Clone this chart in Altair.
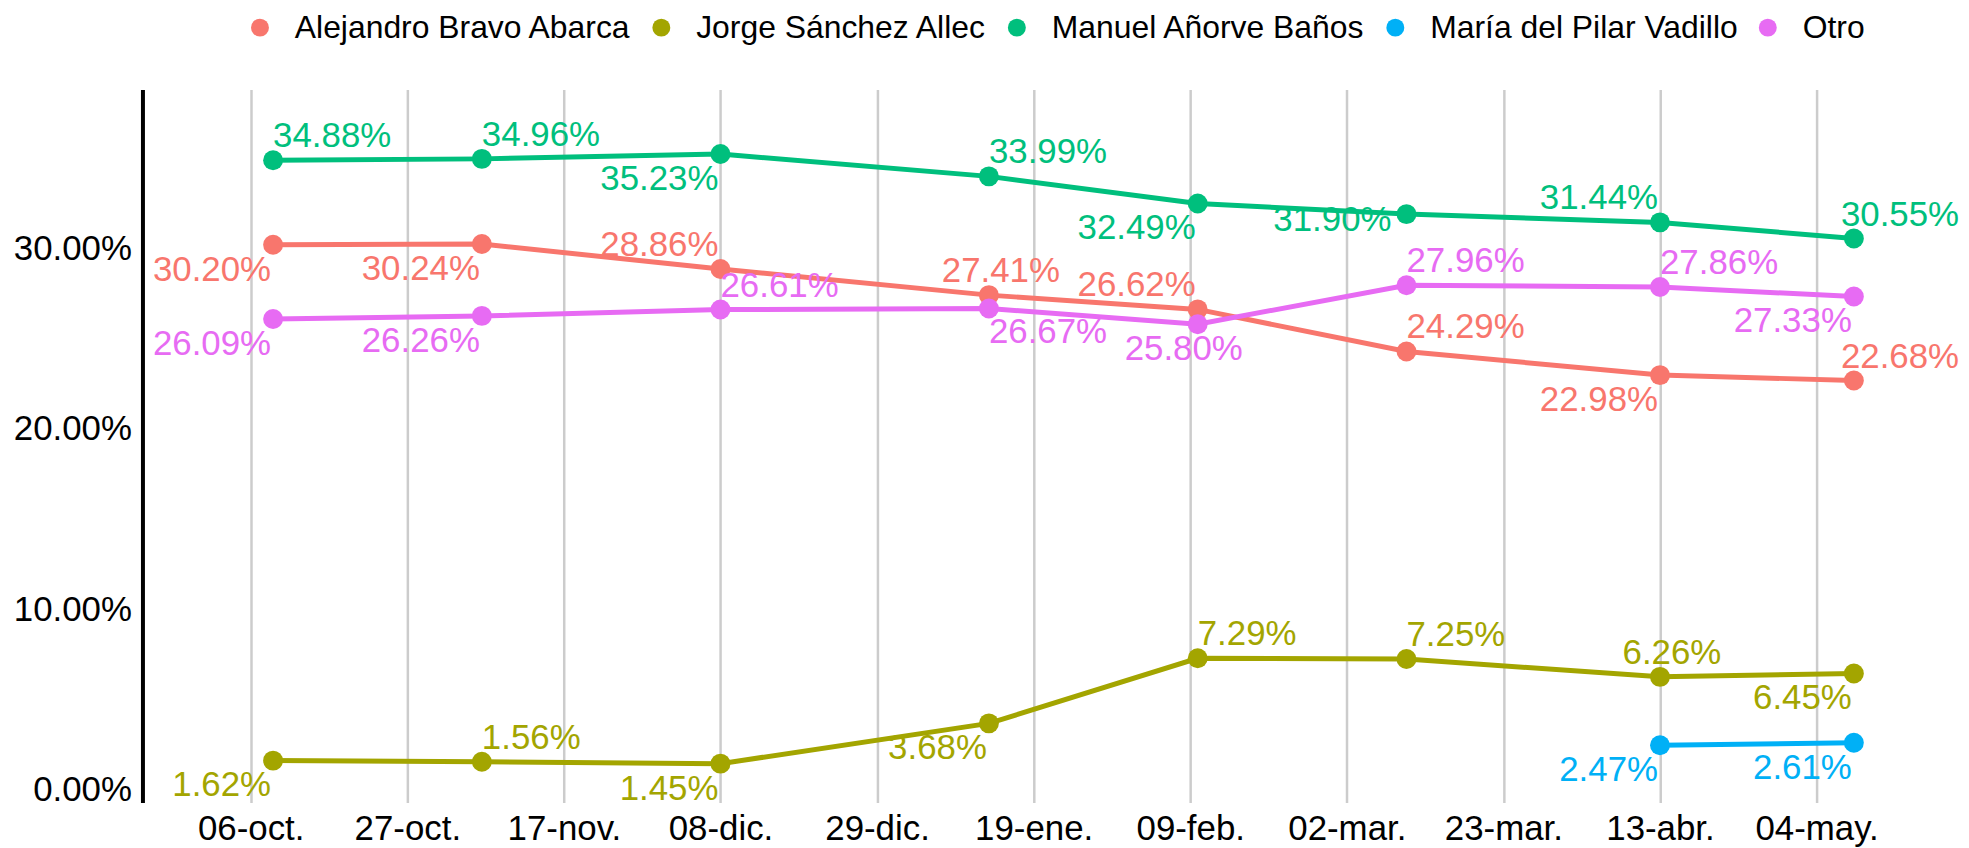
import altair as alt
import pandas as pd
from datetime import datetime, timezone, timedelta

FONT = "Liberation Sans"

candidates = ["Alejandro Bravo Abarca", "Jorge Sánchez Allec", "Manuel Añorve Baños",
              "María del Pilar Vadillo", "Otro"]
colors = ["#F8766D", "#A3A500", "#00BF7D", "#00B0F6", "#E76BF3"]

dates = ["2022-10-09", "2022-11-06", "2022-12-08", "2023-01-13",
         "2023-02-10", "2023-03-10", "2023-04-13", "2023-05-09"]

alejandro = [30.20, 30.24, 28.86, 27.41, 26.62, 24.29, 22.98, 22.68]
jorge = [1.62, 1.56, 1.45, 3.68, 7.29, 7.25, 6.26, 6.45]
manuel = [34.88, 34.96, 35.23, 33.99, 32.49, 31.90, 31.44, 30.55]
maria = [None, None, None, None, None, None, 2.47, 2.61]
otro = [26.09, 26.26, 26.61, 26.67, 25.80, 27.96, 27.86, 27.33]

# label placement around each point (compass code)
pos_alejandro = ["SW", "SW", "NW", "N", "NW", "NE", "SW", "NEX"]
pos_jorge = ["SW", "NE", "SW", "SW", "NE", "NE", "N", "SW"]
pos_manuel = ["NE", "NE", "SW", "NE", "SW", "W", "NW", "NEX"]
pos_maria = [None, None, None, None, None, None, "SW", "SW"]
pos_otro = ["SW", "SW", "NE", "SE", "S", "NE", "NE", "SW"]

tick_dates = ["2022-10-06", "2022-10-27", "2022-11-17", "2022-12-08", "2022-12-29",
              "2023-01-19", "2023-02-09", "2023-03-02", "2023-03-23", "2023-04-13",
              "2023-05-04"]
tick_labels = ["06-oct.", "27-oct.", "17-nov.", "08-dic.", "29-dic.", "19-ene.",
               "09-feb.", "02-mar.", "23-mar.", "13-abr.", "04-may."]

series = [alejandro, jorge, manuel, maria, otro]
positions = [pos_alejandro, pos_jorge, pos_manuel, pos_maria, pos_otro]

rows = []
for name, vals, poss in zip(candidates, series, positions):
    for d, v, p in zip(dates, vals, poss):
        if v is None:
            continue
        rows.append({"candidate": name, "serie": name, "date": d, "value": v, "pos": p,
                     "label": f"{v:.2f}%"})
df = pd.DataFrame(rows)


def ms(s):
    dt = datetime.strptime(s, "%Y-%m-%d").replace(tzinfo=timezone.utc)
    return int(dt.timestamp() * 1000)


tick_ms = [ms(s) for s in tick_dates]
dom0 = int((datetime(2022, 10, 6, tzinfo=timezone.utc) - timedelta(days=14.52)).timestamp() * 1000)
dom1 = int((datetime(2023, 5, 4, tzinfo=timezone.utc) + timedelta(days=18.3)).timestamp() * 1000)

label_expr = ("[" + ",".join(f"'{t}'" for t in tick_labels) + "][indexof(["
              + ",".join(str(t) for t in tick_ms) + "], toNumber(datum.value))]")

x = alt.X("date:T", scale=alt.Scale(type="utc", domain=[dom0, dom1]),
          axis=alt.Axis(values=tick_ms, labelExpr=label_expr, title=None, domain=False,
                        ticks=False, grid=True, gridColor="#cccccc", gridWidth=2.5,
                        labelFontSize=35, labelFont=FONT, labelColor="#000000",
                        labelPadding=9, labelAngle=0, labelOverlap=False,
                        labelFlush=False))
y = alt.Y("value:Q", scale=alt.Scale(domain=[-0.70, 38.81], nice=False, zero=False),
          axis=alt.Axis(values=[0, 10, 20, 30],
                        labelExpr="format(datum.value, '.2f') + '%'",
                        title=None, domain=True, domainColor="#000000", domainWidth=4,
                        ticks=False, grid=False, labelFontSize=35, labelFont=FONT,
                        labelColor="#000000", labelPadding=11))

# series colours for lines / labels (own field so their disabled legends don't merge)
stroke_enc = alt.Stroke("serie:N", scale=alt.Scale(range=colors), legend=None)
fill_enc = alt.Fill("serie:N", scale=alt.Scale(range=colors), legend=None)
color_legend = alt.Color("candidate:N", scale=alt.Scale(domain=candidates, range=colors),
                         legend=alt.Legend(orient="none", legendX=102, legendY=-78,
                                           direction="horizontal", title=None,
                                           labelFontSize=32, labelFont=FONT,
                                           labelLimit=1000,
                                           labelColor="#000000", symbolType="circle",
                                           symbolSize=324, symbolStrokeWidth=0,
                                           labelOffset=19, columnPadding=14, padding=0))

base = alt.Chart(df)
lines = base.mark_line(strokeWidth=5).encode(x=x, y=y, stroke=stroke_enc,
                                             detail="serie:N")
points = base.mark_circle(size=400, opacity=1).encode(x=x, y=y, color=color_legend)

placements = {
    "NE": ("left", 0, -13),
    "NEX": ("left", -13, -13),
    "NW": ("right", -2, -13),
    "SW": ("right", -2, 36),
    "SE": ("left", 0, 35),
    "N": ("center", 12, -13),
    "S": ("center", -14, 36),
    "W": ("right", -15, 17),
}
texts = []
for key, (align, dx, dy) in placements.items():
    texts.append(
        base.transform_filter(alt.datum.pos == key)
        .mark_text(align=align, baseline="alphabetic", dx=dx, dy=dy, fontSize=35, font=FONT)
        .encode(x=x, y=y, text="label:N", fill=fill_enc)
    )

chart = alt.layer(lines, points, *texts).properties(
    width=1818, height=716,
    padding={"left": 135, "top": 80, "right": 8, "bottom": 44},
    autosize=alt.AutoSizeParams(type="none"),
    background="white",
).configure_view(stroke=None)

chart.save("out.html", embed_options={"renderer": "svg", "actions": False})
